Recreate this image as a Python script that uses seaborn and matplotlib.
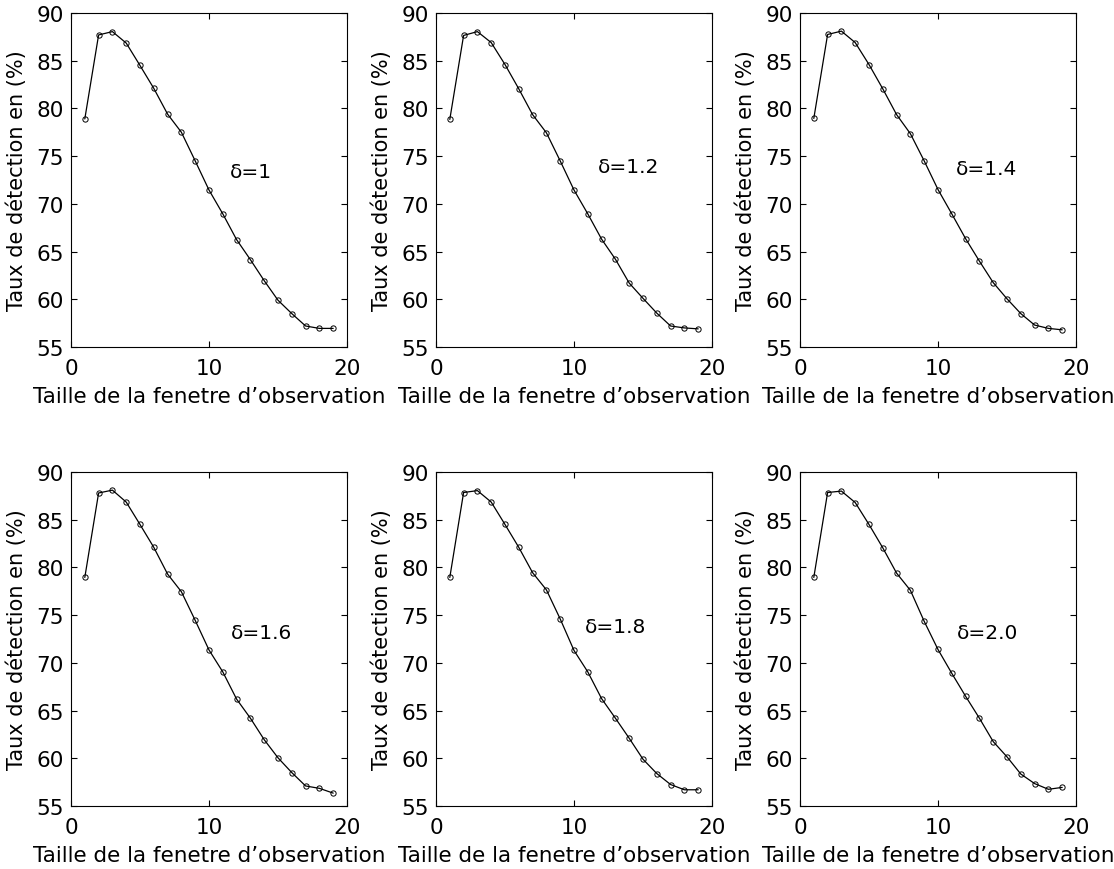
import matplotlib
matplotlib.use("Agg")
import matplotlib.pyplot as plt
import seaborn as sns
import pandas as pd

# ----------------------------
# Data
# ----------------------------
window_size = list(range(1, 20))

rate_d10 = [78.9, 87.7, 88.05, 86.85, 84.5, 82.1, 79.4, 77.5, 74.5, 71.45,
            68.95, 66.25, 64.15, 61.95, 59.9, 58.5, 57.2, 56.95, 56.95]
rate_d12 = [78.85, 87.65, 88.05, 86.9, 84.6, 82.05, 79.35, 77.45, 74.5, 71.45,
            68.95, 66.3, 64.2, 61.7, 60.1, 58.55, 57.2, 57.0, 56.9]
rate_d14 = [78.95, 87.75, 88.1, 86.9, 84.6, 82.05, 79.35, 77.35, 74.5, 71.5,
            68.95, 66.35, 64.0, 61.75, 60.05, 58.5, 57.3, 56.95, 56.8]
rate_d16 = [78.95, 87.8, 88.1, 86.85, 84.5, 82.1, 79.3, 77.45, 74.45, 71.35,
            69.05, 66.2, 64.2, 61.95, 60.05, 58.5, 57.1, 56.85, 56.35]
rate_d18 = [78.95, 87.85, 88.05, 86.85, 84.5, 82.1, 79.45, 77.65, 74.6, 71.3,
            69.05, 66.25, 64.2, 62.1, 59.9, 58.4, 57.25, 56.7, 56.7]
rate_d20 = [78.95, 87.85, 88.0, 86.8, 84.5, 82.05, 79.4, 77.6, 74.35, 71.4,
            68.9, 66.5, 64.2, 61.75, 60.15, 58.35, 57.35, 56.75, 56.95]

delta_labels = ["\u03b4=1", "\u03b4=1.2", "\u03b4=1.4", "\u03b4=1.6", "\u03b4=1.8", "\u03b4=2.0"]
series = [rate_d10, rate_d12, rate_d14, rate_d16, rate_d18, rate_d20]
label_pos = [(11.5, 73.4), (11.7, 73.9), (11.3, 73.7), (11.6, 73.2), (10.8, 73.8), (11.4, 73.2)]

sns.set_style("ticks")
# wide sans font, closer to the stretched Helvetica of the original
plt.rcParams['font.family'] = ['DejaVu Sans']
plt.rcParams['xtick.direction'] = 'in'
plt.rcParams['ytick.direction'] = 'in'
plt.rcParams['text.color'] = 'black'
plt.rcParams['axes.labelcolor'] = 'black'
plt.rcParams['xtick.color'] = 'black'
plt.rcParams['ytick.color'] = 'black'

fig = plt.figure(figsize=(11.14, 8.70), dpi=100)

lefts = [71 / 1114, 436 / 1114, 800 / 1114]
bottoms = [1 - 348 / 870, 1 - 807 / 870]
w = 276 / 1114
h = 334 / 870

for i, (vals, lab, pos) in enumerate(zip(series, delta_labels, label_pos)):
    row, col = divmod(i, 3)
    ax = fig.add_axes([lefts[col], bottoms[row], w, h])
    df = pd.DataFrame({"taille": window_size, "taux": vals})
    sns.lineplot(data=df, x="taille", y="taux", ax=ax, color="black",
                 linewidth=0.9, marker="o", markersize=3.8,
                 markerfacecolor="none", markeredgecolor="black",
                 markeredgewidth=0.7)
    ax.set_xlim(0, 20)
    ax.set_ylim(55, 90)
    ax.set_xticks([0, 10, 20])
    ax.set_yticks(range(55, 91, 5))
    ax.tick_params(axis="both", labelsize=15.5, top=True, right=True,
                   length=4, width=0.8)
    ax.tick_params(axis="x", pad=8)
    ax.tick_params(axis="y", pad=5)
    for s in ax.spines.values():
        s.set_linewidth(0.8)
        s.set_color("black")
    ax.set_xlabel("Taille de la fenetre d\u2019observation", fontsize=15.5, labelpad=6)
    ax.set_ylabel("Taux de détection en (%)", fontsize=15, labelpad=7)
    ax.text(pos[0], pos[1], lab, fontsize=14.5, va="center", ha="left")

fig.savefig("out.png", dpi=100)
